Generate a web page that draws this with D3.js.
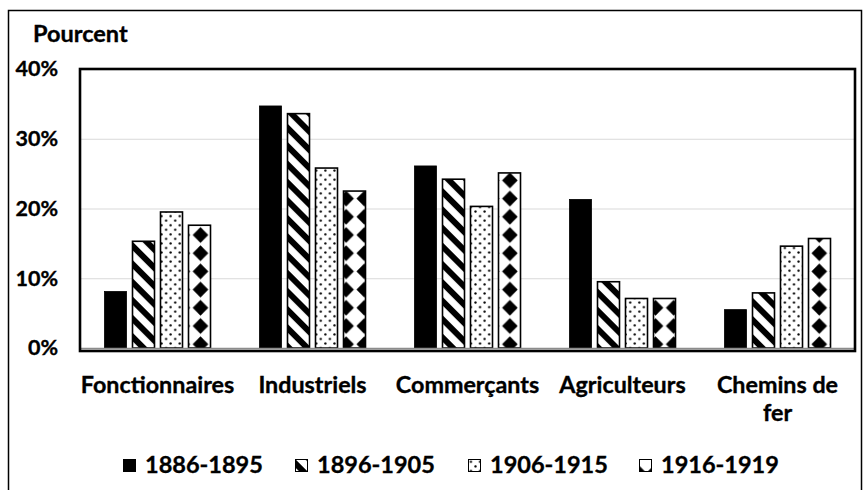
<!DOCTYPE html>
<html>
<head>
<meta charset="utf-8">
<script src="https://cdn.jsdelivr.net/npm/d3@7"></script>
<style>
  body { margin: 0; background: #fff; }
  text { font-family: Lato, sans-serif; font-weight: 700; fill: #000; stroke: #000; stroke-width: 0.35px; }
</style>
</head>
<body>
<svg id="chart" width="865" height="490"></svg>
<script>
let categories = ['Fonctionnaires', 'Industriels', 'Commerçants', 'Agriculteurs', 'Chemins de fer'];
let categoryLines = [['Fonctionnaires'], ['Industriels'], ['Commerçants'], ['Agriculteurs'], ['Chemins de', 'fer']];
let periods = ['1886-1895', '1896-1905', '1906-1915', '1916-1919'];

let v1886 = [8.1, 34.7, 26.1, 21.3, 5.5];
let v1896 = [15.3, 33.6, 24.2, 9.5, 7.9];
let v1906 = [19.5, 25.8, 20.3, 7.1, 14.6];
let v1916 = [17.6, 22.5, 25.1, 7.1, 15.7];
let series = [v1886, v1896, v1906, v1916];

let yTicks = [0, 10, 20, 30, 40];

let margin = {top: 69, right: 10, bottom: 141, left: 80};
let W = 865, H = 490;
let width = W - margin.left - margin.right,
    height = H - margin.top - margin.bottom;

let svg = d3.select('#chart');

// fill patterns, in page coordinates so the phase runs across bars
let defs = svg.append('defs');
let T = 18.2;

let stripes = defs.append('pattern')
  .attr('id', 'p-stripes')
  .attr('patternUnits', 'userSpaceOnUse')
  .attr('width', T / Math.SQRT2).attr('height', T / Math.SQRT2)
  .attr('patternTransform', 'rotate(45)');
stripes.append('rect').attr('width', T).attr('height', T / Math.SQRT2).attr('fill', '#fff');
stripes.append('rect').attr('width', T).attr('height', 6).attr('fill', '#000');

let dots = defs.append('pattern')
  .attr('id', 'p-dots')
  .attr('patternUnits', 'userSpaceOnUse')
  .attr('width', T / 2).attr('height', T / 2);
dots.append('rect').attr('width', T / 2).attr('height', T / 2).attr('fill', '#fff');
dots.append('circle').attr('cx', 2.3).attr('cy', 2.3).attr('r', 1.15).attr('fill', '#000');
dots.append('circle').attr('cx', 2.3 + T / 4).attr('cy', 2.3 + T / 4).attr('r', 1.15).attr('fill', '#000');

let diamonds = defs.append('pattern')
  .attr('id', 'p-diamonds')
  .attr('patternUnits', 'userSpaceOnUse')
  .attr('x', 191.4).attr('y', 225.9)
  .attr('width', T).attr('height', T);
diamonds.append('rect').attr('width', T).attr('height', T).attr('fill', '#fff');
let c = T / 2, r = 7.8;
diamonds.append('path')
  .attr('d', `M${c},${c - r}L${c + r},${c}L${c},${c + r}L${c - r},${c}Z`)
  .attr('fill', '#000');

let fills = ['#000', 'url(#p-stripes)', 'url(#p-dots)', 'url(#p-diamonds)'];

// scales
let x0 = d3.scaleBand().domain(categories).range([margin.left, margin.left + width]);
let x1 = d3.scaleBand().domain(d3.range(periods.length)).range([0, 106]).paddingInner(6 / 28);
let y = d3.scaleLinear().domain([0, 40]).range([margin.top + height - 1, margin.top]);

// outer frame
svg.append('rect')
  .attr('x', 8.5).attr('y', 10.5)
  .attr('width', 853).attr('height', 484)
  .attr('fill', 'none').attr('stroke', '#000').attr('stroke-width', 1.5);

// gridlines
svg.append('g')
  .attr('class', 'grid')
  .attr('transform', `translate(${margin.left},0)`)
  .call(d3.axisLeft(y).tickValues(yTicks.slice(1, -1)).tickSize(-width).tickFormat(''))
  .call(g => g.select('.domain').remove())
  .call(g => g.selectAll('line').attr('stroke', '#d9d9d9').attr('stroke-width', 1.2));

// bars
let groups = svg.append('g').attr('class', 'bars')
  .selectAll('g')
  .data(series)
  .join('g')
    .attr('fill', (d, i) => fills[i]);

groups.selectAll('rect')
  .data((d, i) => d.map((v, j) => ({v: v, s: i, c: categories[j]})))
  .join('rect')
    .attr('x', d => x0(d.c) + (x0.bandwidth() - 106) / 2 + x1(d.s))
    .attr('y', d => y(d.v))
    .attr('width', x1.bandwidth())
    .attr('height', d => y(0) - y(d.v))
    .attr('stroke', '#000')
    .attr('stroke-width', d => d.s === 0 ? 0.8 : 1.6);

// axis line and plot frame
svg.append('line')
  .attr('x1', margin.left).attr('x2', margin.left + width)
  .attr('y1', y(0) + 0.5).attr('y2', y(0) + 0.5)
  .attr('stroke', '#8c8c8c').attr('stroke-width', 1.5);

svg.append('rect')
  .attr('x', margin.left).attr('y', margin.top)
  .attr('width', width).attr('height', height + 2)
  .attr('fill', 'none').attr('stroke', '#000').attr('stroke-width', 2.6);

// y axis labels
svg.append('g')
  .attr('class', 'y axis')
  .attr('transform', `translate(${margin.left},0)`)
  .call(d3.axisLeft(y).tickValues(yTicks).tickFormat(d => d + '%').tickSize(0).tickPadding(22))
  .call(g => g.select('.domain').remove())
  .call(g => g.selectAll('text').style('font-size', '21.5px').attr('font-family', null).attr('fill', '#000'));

svg.append('text')
  .attr('x', 33).attr('y', 42)
  .style('font-size', '23.5px')
  .text('Pourcent');

// category labels
let xa = svg.append('g')
  .attr('class', 'x axis')
  .attr('transform', `translate(0,${margin.top + height + 2})`)
  .call(d3.axisBottom(x0).tickSize(0).tickPadding(0))
  .call(g => g.select('.domain').remove());

xa.selectAll('.tick text')
  .attr('font-family', null)
  .attr('fill', '#000')
  .style('font-size', '23.3px')
  .attr('dy', null)
  .attr('y', 0)
  .text(null)
  .each(function(d) {
    let lines = categoryLines[categories.indexOf(d)];
    d3.select(this).selectAll('tspan')
      .data(lines)
      .join('tspan')
        .attr('x', 0)
        .attr('y', (l, k) => 42 + k * 28)
        .text(l => l);
  });

// legend
let legendX = [123, 295, 468, 639];
let legend = svg.append('g').attr('class', 'legend')
  .selectAll('g')
  .data(periods)
  .join('g');

legend.append('rect')
  .attr('x', (d, i) => legendX[i] + 0.5)
  .attr('y', 459.5)
  .attr('width', 12).attr('height', 12)
  .attr('fill', (d, i) => fills[i])
  .attr('stroke', '#000').attr('stroke-width', 1);

legend.append('text')
  .attr('x', (d, i) => legendX[i] + 22)
  .attr('y', 473)
  .style('font-size', '23.5px')
  .text(d => d);
</script>
</body>
</html>
